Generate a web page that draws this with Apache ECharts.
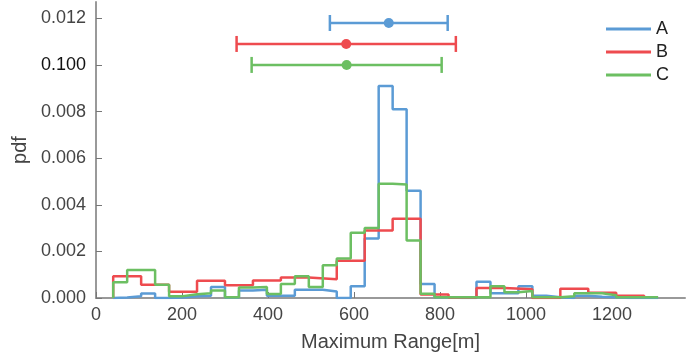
<!DOCTYPE html>
<html>
<head>
<meta charset="utf-8">
<script src="https://cdn.jsdelivr.net/npm/echarts@6/dist/echarts.min.js"></script>
<style>html,body{margin:0;padding:0;background:#fff}#c{width:697px;height:358px}</style>
</head>
<body>
<div id="c"></div>
<script>
// ---- data ----
const seriesNames = ['A', 'B', 'C'];
const xTickValues = [0, 200, 400, 600, 800, 1000, 1200];
const xTickLabels = ['0', '200', '400', '600', '800', '1000', '1200'];
const yTickValues = [0, 0.002, 0.004, 0.006, 0.008, 0.010, 0.012];
const yTickLabels = ['0.000', '0.002', '0.004', '0.006', '0.008', '0.100', '0.012'];

const binStart = 40;
const binWidthA = 32.5;
const binWidthB = 65;
const binWidthC = 32.5;

const histA = [0.00002, 0.00008, 0.00019, 0, 0.00002, 0.00007, 0.0001, 0.00047, 0.00002, 0.00032,
  0.00035, 0.0001, 0.0001, 0.00035, 0.00035, 0.00028, 0, 0.0005, 0.00255, 0.0091,
  0.0081, 0.0046, 0.0006, 0.00003, 0, 0, 0.0007, 0.0002, 0.0002, 0.0005,
  0.0001, 0.00003, 0, 0.0001, 0.00005, 0.00003, 0, 0, 0];
const histB = [0.00093, 0.00057, 0.00027, 0.00074, 0.00055, 0.00075, 0.00088, 0.0008, 0.0016, 0.0029,
  0.0034, 0.00015, 0.00002, 0.00043, 0.00038, 0, 0.0004, 0.00023, 0.0001];
const histC = [0.00068, 0.0012, 0.0012, 0.00057, 0.00008, 0.00016, 0.0002, 0.00032, 0.00003, 0.00045,
  0.00047, 0.00017, 0.0006, 0.00093, 0.00047, 0.0014, 0.0017, 0.0028, 0.003, 0.0049,
  0.00487, 0.00247, 0.00018, 0.00003, 0.00003, 0.00003, 0.00003, 0.0005, 0.00025, 0.0003,
  0.00003, 0.00003, 0.00007, 0.0002, 0.0002, 0.00012, 0.00003, 0.00003, 0.00003];

const errMean = [681, 582, 583];
const errStd = [137, 255, 221];
const errLevel = [0.0118, 0.0109, 0.0100];

const colors = ['#5b9bd5', '#ee4b4f', '#6cbf62'];

// ---- build ----
function stepPoints(start, width, vals) {
  const pts = [[start, 0]];
  vals.forEach((v, i) => {
    pts.push([start + i * width, v]);
    pts.push([start + (i + 1) * width, v]);
  });
  pts.push([start + vals.length * width, 0]);
  return pts;
}
const hists = [[binWidthA, histA], [binWidthB, histB], [binWidthC, histC]];

const font = 'Liberation Sans, Arial, Helvetica, sans-serif';
const series = [];
hists.forEach((h, i) => {
  series.push({
    name: seriesNames[i], type: 'line', data: stepPoints(binStart, h[0], h[1]),
    showSymbol: false, symbol: 'none', lineStyle: { color: colors[i], width: 2.5 },
    itemStyle: { color: colors[i] }, z: 2 + i
  });
});
seriesNames.forEach((n, i) => {
  series.push({
    name: n + ' mean', type: 'custom', z: 10,
    data: [[errMean[i] - errStd[i], errMean[i], errMean[i] + errStd[i], errLevel[i]]],
    renderItem: function (params, api) {
      const y = api.value(3);
      const lo = api.coord([api.value(0), y]);
      const mid = api.coord([api.value(1), y]);
      const hi = api.coord([api.value(2), y]);
      const st = { stroke: colors[i], lineWidth: 2.5 };
      return { type: 'group', children: [
        { type: 'line', shape: { x1: lo[0], y1: lo[1], x2: hi[0], y2: hi[1] }, style: st },
        { type: 'line', shape: { x1: lo[0], y1: lo[1] - 8, x2: lo[0], y2: lo[1] + 8 }, style: st },
        { type: 'line', shape: { x1: hi[0], y1: hi[1] - 8, x2: hi[0], y2: hi[1] + 8 }, style: st },
        { type: 'circle', shape: { cx: mid[0], cy: mid[1], r: 5 }, style: { fill: colors[i] } }
      ] };
    }
  });
});

const chart = echarts.init(document.getElementById('c'));
chart.setOption({
  animation: false,
  backgroundColor: '#fff',
  grid: { left: 96, right: 12, top: 2, bottom: 60 },
  legend: {
    data: seriesNames, orient: 'vertical', left: 606, top: 19, itemGap: 3,
    itemWidth: 45, itemHeight: 3, icon: 'rect', padding: 0,
    textStyle: { fontFamily: font, fontSize: 18, color: '#222', lineHeight: 20 }
  },
  xAxis: {
    type: 'value', min: 0, max: 1370,
    name: 'Maximum Range[m]', nameLocation: 'middle', nameGap: 34,
    nameTextStyle: { fontFamily: font, fontSize: 20, color: '#444' },
    axisLine: { show: true, onZero: false, lineStyle: { color: '#999', width: 2 } },
    axisTick: { show: true, inside: true, length: 6, customValues: xTickValues, lineStyle: { color: '#777' } },
    axisLabel: {
      customValues: xTickValues, fontFamily: font, fontSize: 18, color: '#444', margin: 8,
      formatter: function (v) { return xTickLabels[xTickValues.indexOf(Math.round(v))]; }
    },
    splitLine: { show: false }
  },
  yAxis: {
    type: 'value', min: 0, max: 0.0127,
    name: 'pdf', nameLocation: 'middle', nameGap: 64, nameRotate: 90,
    nameTextStyle: { fontFamily: font, fontSize: 20, color: '#444' },
    axisLine: { show: true, onZero: false, lineStyle: { color: '#999', width: 2 } },
    axisTick: { show: true, inside: true, length: 6, customValues: yTickValues, lineStyle: { color: '#777' } },
    axisLabel: {
      customValues: yTickValues, fontFamily: font, fontSize: 18, margin: 10,
      formatter: function (v) { return yTickLabels[Math.round(v / 0.002)]; },
      color: function (v) { return Math.round(v / 0.002) === 5 ? '#111' : '#444'; }
    },
    splitLine: { show: false }
  },
  series: series
});
</script>
</body>
</html>
